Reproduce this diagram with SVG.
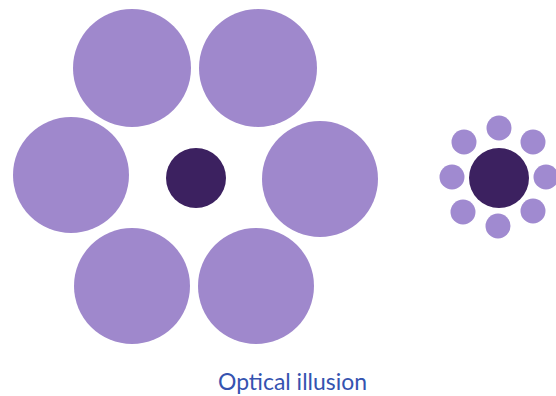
<svg xmlns="http://www.w3.org/2000/svg" width="556" height="396" viewBox="0 0 556 396">
<style>
.big{fill:#9f88cc}
.small{fill:#a08ad0}
.dark{fill:#3c2160}
.label{font-family:Lato,"Open Sans",sans-serif;font-size:24px;fill:#3553b0}
</style>
<rect width="556" height="396" fill="#ffffff"/>
<g id="left-cluster">
<circle class="big" cx="132" cy="68" r="59"/>
<circle class="big" cx="258" cy="68" r="59"/>
<circle class="big" cx="71" cy="175" r="58"/>
<circle class="big" cx="320" cy="179" r="58"/>
<circle class="big" cx="132" cy="286" r="58"/>
<circle class="big" cx="256" cy="286" r="58"/>
<circle class="dark" cx="196" cy="178" r="30"/>
</g>
<g id="right-cluster">
<circle class="small" cx="499" cy="128" r="12.5"/>
<circle class="small" cx="464" cy="142" r="12.5"/>
<circle class="small" cx="533" cy="142" r="12.5"/>
<circle class="small" cx="452" cy="177" r="12.5"/>
<circle class="small" cx="546" cy="177" r="12.5"/>
<circle class="small" cx="463" cy="212" r="12.5"/>
<circle class="small" cx="533" cy="211" r="12.5"/>
<circle class="small" cx="498" cy="226" r="12.5"/>
<circle class="dark" cx="499" cy="178" r="30"/>
</g>
<g id="caption">
<text class="label" x="218" y="390" textLength="149" lengthAdjust="spacingAndGlyphs">Optical illusion</text>
</g>
</svg>
